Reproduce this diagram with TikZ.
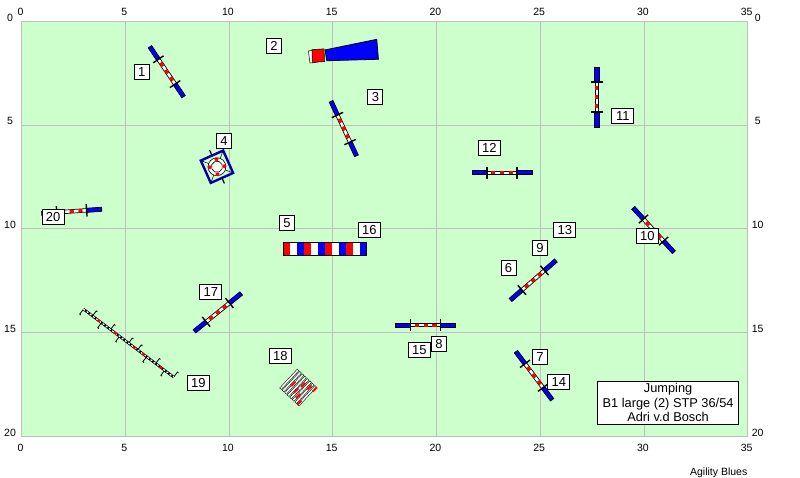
\documentclass[tikz,border=0pt]{standalone}
\usepackage{fontspec}
\setmainfont{Liberation Sans}
\definecolor{fieldgreen}{HTML}{CCFFCC}
\definecolor{gridgray}{HTML}{BFBFBF}
\tikzset{
	numbox/.style={draw=black,fill=white,line width=1pt,inner sep=0pt,minimum width=15pt,minimum height=15pt,font=\fontsize{13}{13}\selectfont},
	numboxwide/.style={numbox,minimum width=22pt},
	axisnum/.style={inner sep=0pt,font=\fontsize{10.5}{10.5}\selectfont},
	gridline/.style={gridgray,line width=1pt}
}
\begin{document}
\begin{tikzpicture}[x=20.75pt,y=-20.75pt,line join=miter]
	\useasboundingbox (-1.036,-1.036) rectangle (37.518,22);
	\fill[fieldgreen] (0,0) rectangle (35,20);
	% grid
	\foreach \x in {0,5,...,35}{
		\draw[gridline] (\x,0)--(\x,20);
		\node[axisnum] (top\x) at (\x-0.05,-0.47) {\x};
		\node[axisnum] (bot\x) at (\x-0.05,20.55) {\x};}
	\foreach \y in {0,5,...,20}{
		\draw[gridline] (0,\y)--(35,\y);
		\node[axisnum] (left\y) at (-0.55,\y-0.19) {\y};
		\node[axisnum] (right\y) at (35.48,\y-0.19) {\y};}
	% jumps: x/y/angle on screen
	\foreach \x/\y/\a in {7/2.42/56,15.53/5.16/65,27.73/3.64/90,23.16/7.29/0,30.46/10.05/47.5,
		24.66/12.47/-41,24.7/17.07/53,19.48/14.63/0,9.46/14.02/-39,2.42/9.15/-4}{
		\begin{scope}[shift={(\x,\y)},rotate=-\a]
			\draw[fill=white,line width=0.7pt] (-0.75,-0.085) rectangle (0.75,0.085);
			\foreach \r in {-0.42,0,0.42}{
				\fill[red] (\r-0.1,-0.075) rectangle (\r+0.1,0.075);}
			\draw[fill=blue,line width=0.7pt] (-1.45,-0.1) rectangle (-0.72,0.1);
			\draw[fill=blue,line width=0.7pt] (0.72,-0.1) rectangle (1.45,0.1);
			\draw[line width=1.4pt] (-0.72,-0.3)--(-0.72,0.3);
			\draw[line width=1.4pt] (0.72,-0.3)--(0.72,0.3);
		\end{scope}}
	% tunnel 2
	\draw[fill=white,line width=0.5pt] (13.83,1.42)--(14.2,1.36)--(14.2,1.98)--(13.9,2)--cycle;
	\draw[fill=blue,line width=0.8pt] (14.63,1.37)--(17.12,0.86)--(17.2,1.82)--(14.71,1.89)--cycle;
	\draw[fill=red,line width=0.6pt] (14,1.36)--(14.58,1.32)--(14.6,1.93)--(14.02,1.97)--cycle;
	% tire
	\begin{scope}[shift={(9.42,7)},rotate=24]
		\foreach \s in {-1,1}{
			\draw[line width=1.2pt] (0,0.55*\s)--(0,0.88*\s);
			\draw[line width=0.5pt] (-0.58*\s,-0.58*\s)--(-0.2*\s,-0.2*\s);
			\draw[line width=0.5pt] (-0.58*\s,0.58*\s)--(-0.2*\s,0.2*\s);}
		\draw[fill=white,line width=0.6pt] (0,0) circle (0.43);
		\draw[fill=fieldgreen!30!white,line width=0.6pt] (0,0) circle (0.27);
		\foreach \r in {0,90,180,270}{
			\fill[red] (\r+20:0.36) circle (2pt);}
		\draw[blue!65!black,line width=2.4pt] (-0.59,-0.59) rectangle (0.59,0.59);
	\end{scope}
	% tunnel 5
	\foreach \i/\c in {0/red,1/white,2/blue,3/red,4/white,5/blue,6/red,7/white,8/blue,9/red,10/white,11/blue}{
		\fill[\c] (12.62+\i*0.334,10.64) rectangle (12.62+\i*0.334+0.334,11.29);}
	\draw[line width=0.8pt] (12.62,10.64) rectangle (16.63,11.29);
	% weave
	\begin{scope}[shift={(5.16,15.5)},rotate=-37]
		\foreach \i/\s in {0/1,1/-1,2/1,3/-1,4/1,5/-1,6/-1,7/1,8/-1,9/1,10/-1}{
			\draw[line width=0.8pt] (-2.72+\i*0.544,0)--(-2.72+\i*0.544,0.3*\s)--(-2.65+\i*0.544,0.3*\s);}
		\draw[line width=2.6pt] (-2.72,0)--(2.72,0);
		\draw[white,line width=1.2pt,dash pattern=on 2pt off 2pt] (-2.72,0)--(2.72,0);
		\foreach \r in {-1.8,-0.8,0.35,0.9,1.95}{
			\fill[red] (\r-0.07,-0.05) rectangle (\r+0.07,0.05);}
	\end{scope}
	% long jump
	\begin{scope}[shift={(13.33,17.64)},rotate=47]
		\foreach \i in {0,...,7}{
			\draw[fill=white,line width=0.4pt] (-0.62,-0.58+\i*0.166-0.055) rectangle (0.62,-0.58+\i*0.166+0.055);}
	\end{scope}
	\foreach \x/\y in {13.1/17.47,13.58/17.52,13.23/17.79,13.87/17.63,14.14/17.73,13.34/18.05,13.39/18.37}{
		\draw[red,line width=2pt] (\x-0.1,\y+0.1)--(\x+0.1,\y-0.1);}
	% numbers
	\foreach \n/\x/\y in {1/5.79/2.42,2/12.17/1.2,3/17.06/3.63,4/9.76/5.76,5/12.8/9.73,6/23.47/11.89,
		7/24.99/16.15,8/20.12/15.56,9/24.99/10.93}{
		\node[numbox] (num\n) at (\x,\y) {\n};}
	\foreach \n/\x/\y in {10/30.16/10.36,11/28.98/4.57,12/22.55/6.1,13/26.19/10.05,14/25.9/17.36,
		15/19.17/15.82,16/16.76/10.04,17/9.13/13.04,18/12.48/16.13,19/8.52/17.4,20/1.52/9.44}{
		\node[numboxwide] (num\n) at (\x,\y) {\n};}
	\node[draw=black,fill=white,line width=1pt,inner sep=0pt,minimum width=141.4pt,minimum height=43pt,align=center,
		font=\fontsize{12.8}{14.3}\selectfont] (info) at (31.16,18.37) {Jumping\\B1 large (2) STP 36/54\\Adri v.d Bosch};
	\node[inner sep=0pt,font=\fontsize{10.5}{10.5}\selectfont] (brand) at (33.6,21.75) {Agility Blues};
\end{tikzpicture}
\end{document}
